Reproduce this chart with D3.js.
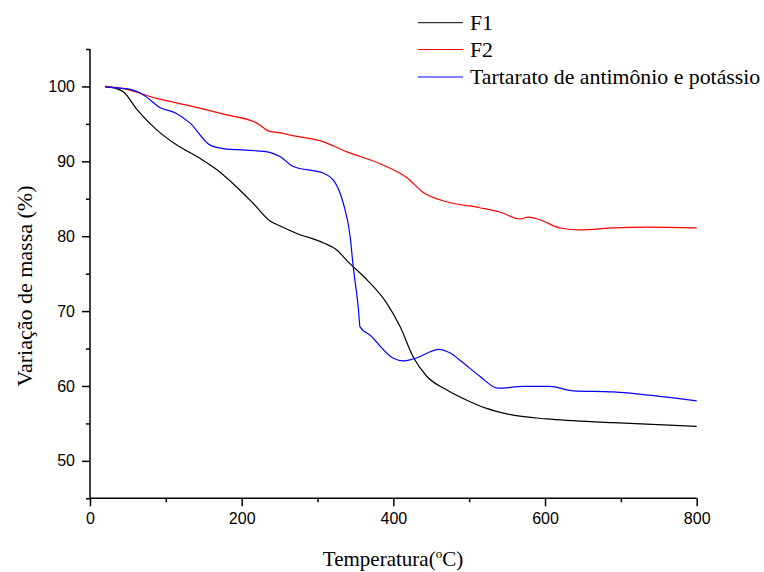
<!DOCTYPE html>
<html>
<head>
<meta charset="utf-8">
<script src="https://cdn.jsdelivr.net/npm/d3@7"></script>
<style>
  body { margin: 0; background: #fff; }
  svg { display: block; }
</style>
</head>
<body>
<div class="chart"></div>
<script>
// temperatures (°C) and mass (%)
const f1Temp = [20, 35, 44, 62, 88, 114, 145, 167, 193, 215, 238, 250, 272, 308, 325, 340, 365, 391, 409, 426, 444, 470, 497, 523, 558, 602, 690, 800];
const f1Mass = [100, 99.7, 99.3, 96.9, 94.2, 92.2, 90.4, 88.9, 86.6, 84.4, 82.0, 81.4, 80.4, 79.1, 78.2, 76.6, 74.2, 71.1, 67.9, 63.9, 61.3, 59.5, 58.1, 57.0, 56.1, 55.6, 55.1, 54.6];

const f2Temp = [20, 44, 88, 132, 176, 220, 237, 251, 264, 308, 338, 382, 418, 440, 470, 514, 541, 567, 578, 593, 620, 646, 690, 734, 800];
const f2Mass = [100, 99.7, 98.4, 97.4, 96.3, 95.1, 94.0, 93.8, 93.5, 92.6, 91.3, 89.7, 87.8, 85.8, 84.6, 83.8, 83.2, 82.3, 82.55, 82.2, 81.1, 80.85, 81.1, 81.2, 81.1];

const tartTemp = [20, 53, 70, 92, 114, 132, 158, 176, 220, 237, 251, 268, 308, 321, 334, 343, 347, 354, 356, 369, 400, 413, 426, 461, 475, 492, 514, 538, 571, 606, 637, 690, 743, 800];
const tartMass = [99.9, 99.6, 98.9, 97.2, 96.4, 95.1, 92.2, 91.7, 91.4, 91.2, 90.6, 89.3, 88.4, 87.5, 84.4, 80.0, 76.0, 70.2, 67.9, 66.8, 63.7, 63.35, 63.6, 64.9, 64.4, 63.1, 61.3, 59.7, 59.95, 59.95, 59.35, 59.2, 58.7, 58.0];

const seriesNames = ["F1", "F2", "Tartarato de antimônio e potássio"];
const seriesColors = ["#000000", "#ff0000", "#0000ff"];

const xMajor = [0, 200, 400, 600, 800];
const xMinor = [100, 300, 500, 700];
const yMajor = [50, 60, 70, 80, 90, 100];
const yMinor = [45, 55, 65, 75, 85, 95, 105];

const width = 764, height = 572;

const svg = d3.select(".chart").append("svg")
  .attr("width", width).attr("height", height);

const x = d3.scaleLinear().domain([0, 800]).range([90, 696.7]);
const y = d3.scaleLinear().domain([45, 105]).range([498.3, 49]);

const series = [
  { name: seriesNames[0], color: seriesColors[0], pts: d3.zip(f1Temp, f1Mass) },
  { name: seriesNames[1], color: seriesColors[1], pts: d3.zip(f2Temp, f2Mass) },
  { name: seriesNames[2], color: seriesColors[2], pts: d3.zip(tartTemp, tartMass) }
];

const line = d3.line()
  .x(d => x(d[0]))
  .y(d => y(d[1]))
  .curve(d3.curveMonotoneX);

svg.append("g").selectAll("path").data(series).join("path")
  .attr("d", d => line(d.pts))
  .attr("fill", "none")
  .attr("stroke", d => d.color)
  .attr("stroke-width", 1.2);

// axes, Origin style: only left and bottom, ticks outside
const tickFont = "'Liberation Sans', Arial, sans-serif";

const xAxis = svg.append("g").attr("transform", `translate(0,${y(45)})`);
xAxis.call(d3.axisBottom(x).tickValues(xMajor).tickSize(8).tickPadding(6).tickFormat(d3.format("d")));
xAxis.append("g").call(d3.axisBottom(x).tickValues(xMinor).tickSize(4).tickFormat(""))
  .select(".domain").remove();

const yAxis = svg.append("g").attr("transform", `translate(${x(0)},0)`);
yAxis.call(d3.axisLeft(y).tickValues(yMajor).tickSize(8).tickPadding(7).tickFormat(d3.format("d")));
yAxis.append("g").call(d3.axisLeft(y).tickValues(yMinor).tickSize(4).tickFormat(""))
  .select(".domain").remove();

svg.selectAll(".domain").attr("stroke-width", 1.5);
svg.selectAll(".tick line").attr("stroke-width", 1.5);
svg.selectAll(".tick text")
  .attr("font-family", tickFont)
  .attr("font-size", 16)
  .attr("fill", "#000");

// plain domain lines without end caps
xAxis.select(".domain").attr("d", `M${x(0)},0H${x(800)}`);
yAxis.select(".domain").attr("d", `M0,${y(105)}V${y(45)}`);

// axis titles
const serif = "'Liberation Serif', 'Times New Roman', serif";

const xt = svg.append("text")
  .attr("x", 393).attr("y", 566)
  .attr("text-anchor", "middle")
  .attr("font-family", serif).attr("font-size", 21);
xt.append("tspan").text("Temperatura(");
xt.append("tspan").attr("font-size", 13).attr("dy", -8).text("o");
xt.append("tspan").attr("dy", 8).text("C)");

svg.append("text")
  .attr("transform", "translate(32,286) rotate(-90)")
  .attr("text-anchor", "middle")
  .attr("font-family", serif).attr("font-size", 22)
  .text("Variação de massa (%)");

// legend
const legendY = [22.7, 49.5, 77];
const legend = svg.append("g").selectAll("g").data(series).join("g")
  .attr("transform", (d, i) => `translate(418,${legendY[i]})`);
legend.append("line")
  .attr("x1", 0).attr("x2", 45)
  .attr("stroke", d => d.color).attr("stroke-width", 1);
legend.append("text")
  .attr("x", 52).attr("y", 7)
  .attr("font-family", serif).attr("font-size", 21.8)
  .text(d => d.name);
</script>
</body>
</html>
